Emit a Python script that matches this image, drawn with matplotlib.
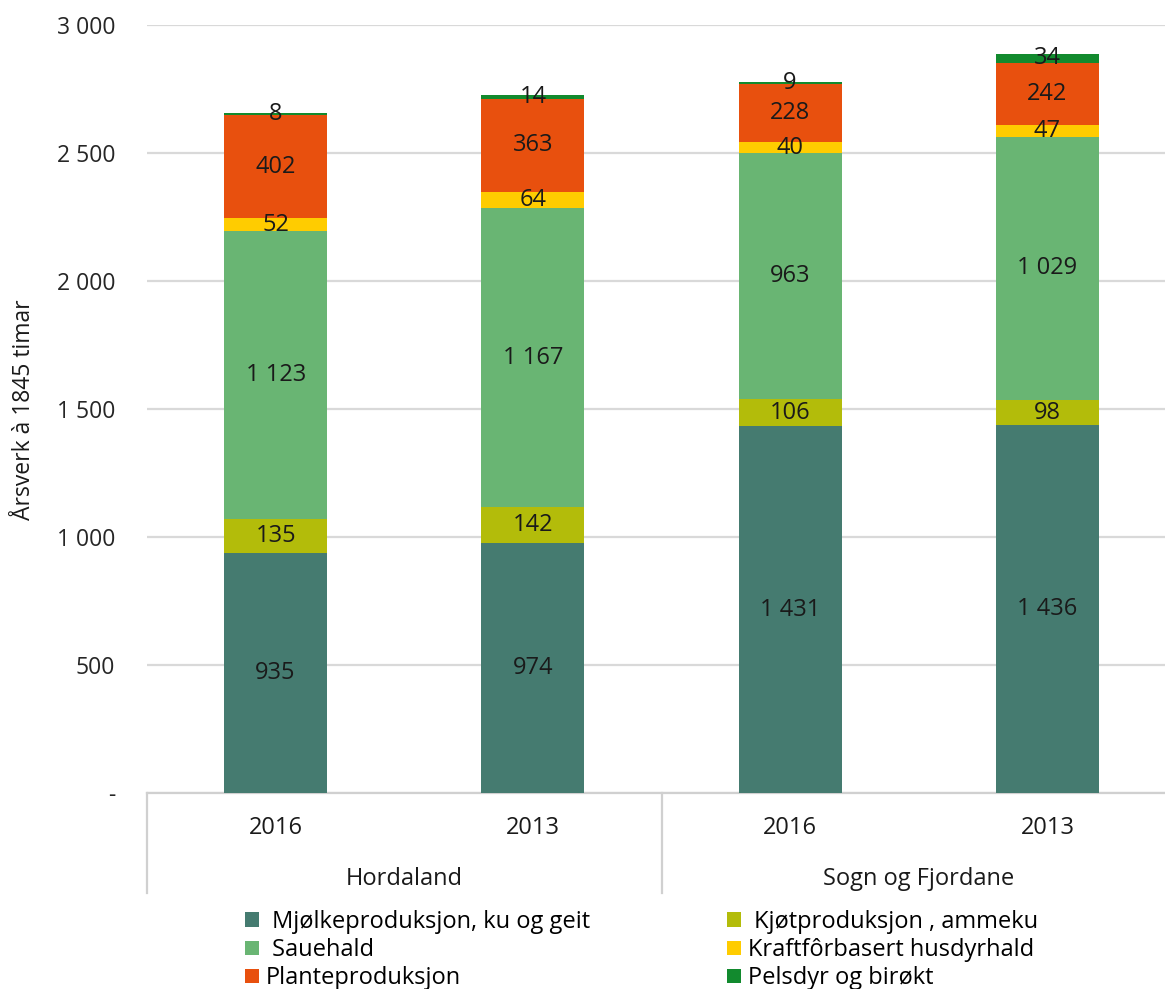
import matplotlib
matplotlib.use("Agg")
import matplotlib.pyplot as plt
from matplotlib.patches import Patch
import matplotlib.transforms as mtransforms

# ---- data ----
regions = ["Hordaland", "Sogn og Fjordane"]
years = ["2016", "2013", "2016", "2013"]
series_names = [
    " Mjølkeproduksjon, ku og geit",
    " Kjøtproduksjon , ammeku",
    " Sauehald",
    "Kraftfôrbasert husdyrhald",
    "Planteproduksjon",
    "Pelsdyr og birøkt",
]
mjolk = [935, 974, 1431, 1436]
kjot = [135, 142, 106, 98]
sau = [1123, 1167, 963, 1029]
kraft = [52, 64, 40, 47]
plante = [402, 363, 228, 242]
pels = [8, 14, 9, 34]
colors = ["#457B70", "#B3BC0A", "#69B573", "#FFCC00", "#E8500E", "#128A2E"]

W, H = 1165, 989
fig = plt.figure(figsize=(W / 100, H / 100), dpi=100)
ax = fig.add_axes([147 / W, 1 - 792.7 / H, (1165 - 147) / W, 768 / H])

FONT = ["Open Sans", "DejaVu Sans"]
TXT = "#1a1a1a"

x = list(range(len(years)))
bottom = [0] * len(years)
containers = []
for vals, col in zip([mjolk, kjot, sau, kraft, plante, pels], colors):
    c = ax.bar(x, vals, width=0.4, bottom=bottom, color=col, zorder=3)
    containers.append(c)
    ax.bar_label(c, labels=[f"{v:,}".replace(",", " ") for v in vals],
                 label_type="center", fontsize=17, family=FONT, color=TXT, zorder=4)
    bottom = [b + v for b, v in zip(bottom, vals)]

ax.set_xlim(-0.5, -0.5 + 1018 / 257.25)
ax.set_ylim(0, 3000)
yt = list(range(0, 3001, 500))
ax.set_yticks(yt)
ax.set_yticklabels(["-" if v == 0 else f"{v:,}".replace(",", " ") for v in yt],
                   fontsize=16.5, family=FONT, color="#262626")
ax.tick_params(axis="y", length=0, pad=23)
ax.set_xticks([])
ax.grid(axis="y", color="#D9D9D9", linewidth=1.6, zorder=0)
for s in ["left", "right", "top"]:
    ax.spines[s].set_visible(False)
ax.spines["bottom"].set_color("#D0D0D0")
ax.spines["bottom"].set_linewidth(1.6)

ax.set_ylabel("Årsverk à 1845 timar", fontsize=16.5, family=FONT, color=TXT)
ax.yaxis.set_label_coords((24 - 147) / 1018, (792.7 - 410) / 768)
ax.yaxis.label.set_va("center")

trans = mtransforms.blended_transform_factory(ax.transData, ax.transAxes)
for xi, yr in zip(x, years):
    ax.text(xi, -(828 - 792.7) / 768, yr, transform=trans, ha="center", va="center",
            fontsize=17, family=FONT, color=TXT)
for i, reg in enumerate(regions):
    ax.text(2 * i + 0.5, -(879 - 792.7) / 768, reg, transform=trans, ha="center",
            va="center", fontsize=17, family=FONT, color=TXT)
for xv in [-0.5, 1.5]:
    ax.plot([xv, xv], [0, -(893 - 792.7) / 768], transform=trans, color="#D0D0D0",
            linewidth=1.6, clip_on=False)

handles = [Patch(facecolor=c, edgecolor="none") for c in colors]
col1 = [0, 2, 4]
col2 = [1, 3, 5]
for idx, xpos in [(col1, 245), (col2, 727)]:
    fig.legend([handles[i] for i in idx], [series_names[i] for i in idx],
               loc="upper left", bbox_to_anchor=(xpos / W, 1 - 910 / H),
               frameon=False, ncol=1, prop={"family": FONT, "size": 17},
               handlelength=0.6, handleheight=0.56, handletextpad=0.3,
               labelspacing=0.18, borderpad=0, borderaxespad=0)

fig.savefig("out.png", dpi=100)
